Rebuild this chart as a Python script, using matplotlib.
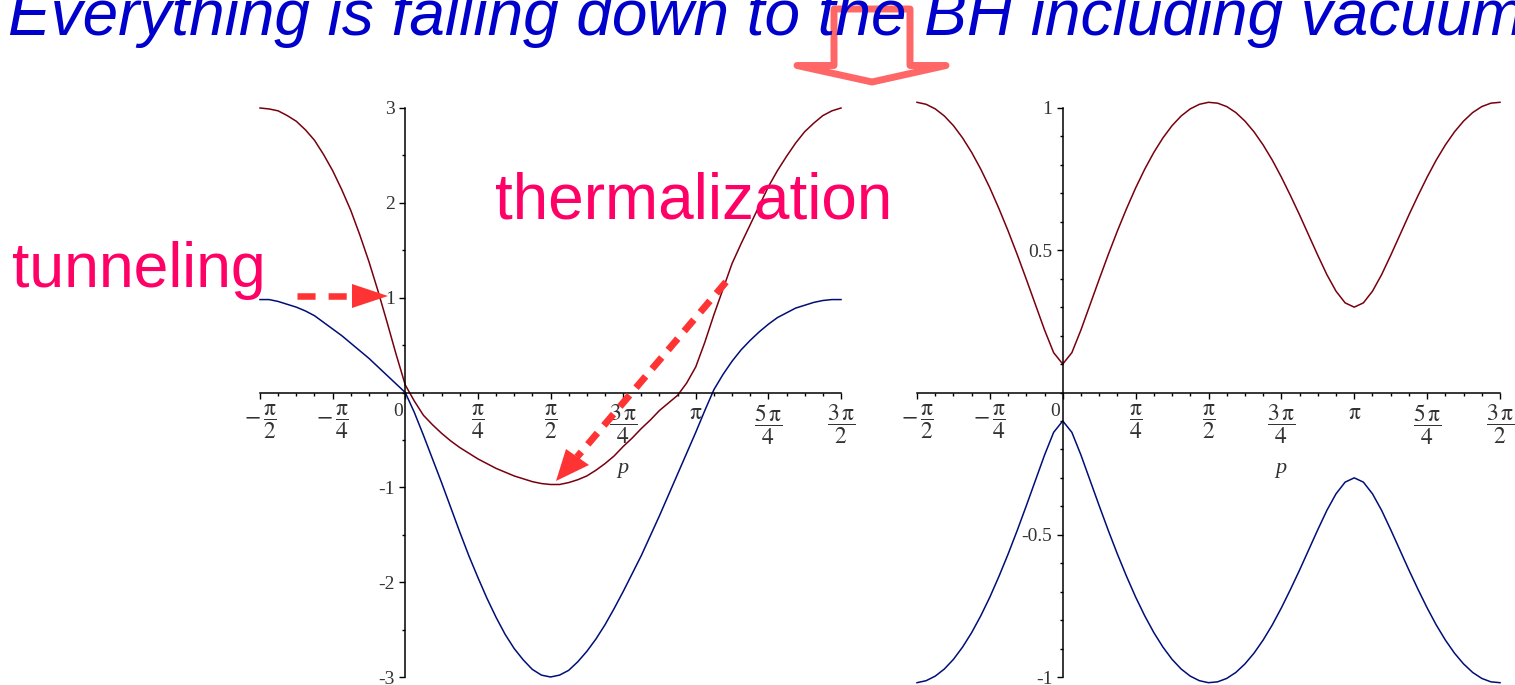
import numpy as np
import matplotlib
matplotlib.use("Agg")
import matplotlib.pyplot as plt
from matplotlib.patches import Polygon
from matplotlib.lines import Line2D
from matplotlib.ticker import MultipleLocator

plt.rcParams['font.family'] = ['Liberation Serif', 'DejaVu Serif']
plt.rcParams['mathtext.fontset'] = 'stix'

W, H = 1515, 685

# grid in p: steps of pi/32 from -pi/2 to 3pi/2
j = np.arange(-16, 49)
p = j * np.pi / 32

# left panel, the two uncoupled branches
red_left = [3.00, 2.99, 2.97, 2.92, 2.86, 2.77, 2.66, 2.51, 2.34, 2.14,
            1.92, 1.66, 1.38, 1.07, 0.74, 0.40, 0.08, -0.09, -0.24, -0.34,
            -0.43, -0.51, -0.58, -0.64, -0.70, -0.75, -0.80, -0.84, -0.88, -0.91,
            -0.94, -0.96, -0.97, -0.97, -0.95, -0.92, -0.88, -0.82, -0.75, -0.67,
            -0.57, -0.48, -0.38, -0.29, -0.19, -0.11, -0.03, 0.10, 0.27, 0.53,
            0.82, 1.09, 1.36, 1.57, 1.77, 1.97, 2.17, 2.34, 2.49, 2.63,
            2.75, 2.84, 2.92, 2.97, 3.00]
blue_left = [0.98, 0.98, 0.96, 0.93, 0.90, 0.86, 0.81, 0.74, 0.67, 0.60,
             0.52, 0.44, 0.36, 0.27, 0.18, 0.09, 0.00, -0.21, -0.45, -0.70,
             -0.95, -1.21, -1.47, -1.72, -1.95, -2.17, -2.37, -2.55, -2.70, -2.82,
             -2.92, -2.98, -3.00, -2.98, -2.93, -2.84, -2.73, -2.60, -2.45, -2.28,
             -2.10, -1.91, -1.72, -1.51, -1.30, -1.08, -0.86, -0.64, -0.42, -0.19,
             0.03, 0.19, 0.33, 0.45, 0.55, 0.64, 0.72, 0.79, 0.84, 0.89,
             0.92, 0.95, 0.97, 0.98, 0.98]

# right panel, the gapped bands
upper_band = [1.020, 1.013, 0.997, 0.972, 0.938, 0.895, 0.844, 0.785, 0.719, 0.646,
              0.568, 0.485, 0.398, 0.309, 0.220, 0.140, 0.100, 0.140, 0.220, 0.309,
              0.398, 0.485, 0.568, 0.646, 0.719, 0.785, 0.844, 0.895, 0.938, 0.972,
              0.997, 1.013, 1.020, 1.017, 1.005, 0.984, 0.954, 0.916, 0.870, 0.817,
              0.757, 0.692, 0.624, 0.553, 0.482, 0.414, 0.356, 0.315, 0.300, 0.315,
              0.356, 0.414, 0.482, 0.553, 0.624, 0.692, 0.757, 0.817, 0.870, 0.916,
              0.954, 0.984, 1.005, 1.017, 1.020]
lower_band = [-1.020, -1.013, -0.997, -0.972, -0.938, -0.895, -0.844, -0.785, -0.719, -0.646,
              -0.568, -0.485, -0.398, -0.309, -0.220, -0.140, -0.100, -0.140, -0.220, -0.309,
              -0.398, -0.485, -0.568, -0.646, -0.719, -0.785, -0.844, -0.895, -0.938, -0.972,
              -0.997, -1.013, -1.020, -1.017, -1.005, -0.984, -0.954, -0.916, -0.870, -0.817,
              -0.757, -0.692, -0.624, -0.553, -0.482, -0.414, -0.356, -0.315, -0.300, -0.315,
              -0.356, -0.414, -0.482, -0.553, -0.624, -0.692, -0.757, -0.817, -0.870, -0.916,
              -0.954, -0.984, -1.005, -1.017, -1.020]

x_ticks = np.arange(-2, 7) * np.pi / 4
x_labels = [r'$-\,\dfrac{\mathrm{\pi}}{2}$', r'$-\,\dfrac{\mathrm{\pi}}{4}$', '',
            r'$\dfrac{\mathrm{\pi}}{4}$', r'$\dfrac{\mathrm{\pi}}{2}$',
            r'$\dfrac{3\,\mathrm{\pi}}{4}$', r'$\mathrm{\pi}$',
            r'$\dfrac{5\,\mathrm{\pi}}{4}$', r'$\dfrac{3\,\mathrm{\pi}}{2}$']
left_yticks = [-3, -2, -1, 1, 2, 3]
left_ylabels = ['-3', '-2', '-1', '1', '2', '3']
right_yticks = [-1, -0.5, 0.5, 1]
right_ylabels = ['-1', '-0.5', '0.5', '1']

RED = '#78000E'
BLUE = '#000E78'
LABEL = '#333333'


def px_box(x0, x1, y0, y1):
    return [x0 / W, 1 - y1 / H, (x1 - x0) / W, (y1 - y0) / H]


def maple_axes(ax, ylim, yticks, ylabels, yminor, zero_dx):
    ax.set_xlim(-np.pi / 2, 3 * np.pi / 2)
    ax.set_ylim(*ylim)
    ax.patch.set_visible(False)
    for s in ('top', 'right'):
        ax.spines[s].set_visible(False)
    for s in ('left', 'bottom'):
        ax.spines[s].set_position(('data', 0))
        ax.spines[s].set_linewidth(1.1)
    ax.set_xticks(x_ticks)
    ax.set_xticklabels(x_labels, fontsize=17)
    ax.xaxis.set_minor_locator(MultipleLocator(np.pi / 16))
    ax.set_yticks(yticks)
    ax.set_yticklabels(ylabels, fontsize=14)
    ax.yaxis.set_minor_locator(MultipleLocator(yminor))
    ax.tick_params(which='major', direction='out', length=4.5, width=1,
                   labelcolor=LABEL)
    ax.tick_params(which='minor', direction='out', length=2.5, width=1)
    ax.tick_params(axis='x', pad=3)
    ax.tick_params(axis='y', pad=3)
    ax.annotate('0', xy=(0, 0), xytext=(zero_dx, -19), textcoords='offset pixels',
                ha='center', va='center', fontsize=14, color=LABEL)
    ax.annotate('p', xy=(3 * np.pi / 4, 0), xytext=(0, -76), textcoords='offset pixels',
                ha='center', va='center', fontsize=16, style='italic', color=LABEL)


fig = plt.figure(figsize=(W / 100, H / 100), dpi=100)

ax1 = fig.add_axes(px_box(260, 841, 108, 677))
ax1.plot(p, red_left, color=RED, lw=1.1, clip_on=False)
ax1.plot(p, blue_left, color=BLUE, lw=1.1, clip_on=False)
maple_axes(ax1, (-3, 3), left_yticks, left_ylabels, 0.5, -7)

ax2 = fig.add_axes(px_box(917, 1500, 108, 677))
ax2.plot(p, upper_band, color=RED, lw=1.1, clip_on=False)
ax2.plot(p, lower_band, color=BLUE, lw=1.1, clip_on=False)
maple_axes(ax2, (-1, 1), right_yticks, right_ylabels, 0.1, -8)

# slide overlay in pixel coordinates
ov = fig.add_axes([0, 0, 1, 1])
ov.set_xlim(0, W)
ov.set_ylim(H, 0)
ov.axis('off')
ov.set_zorder(5)

ov.text(8, 35, 'Everything is falling down to the BH including vacuum.',
        family='Liberation Sans', style='italic', fontsize=46, color='#0000CC',
        va='baseline', ha='left', clip_on=False)

# hollow down arrow
ov.add_patch(Polygon([(834, 65.5), (834, 9), (910, 9), (910, 65.5), (946, 65.5),
                      (872, 82), (797, 65.5)], closed=True, fill=False,
                     ec='#FF6666', lw=5, joinstyle='round'))

ov.text(12, 287, 'tunneling', family='Liberation Sans', fontsize=45,
        color='#FF0066', va='baseline', ha='left')
ov.text(495, 218, 'thermalization', family='Liberation Sans', fontsize=46,
        color='#FF0066', va='baseline', ha='left')

ARROW = '#FF3333'
ov.add_line(Line2D([297, 353], [296, 296], color=ARROW, lw=4.7,
                   ls=(0, (2.77, 2.0)), dash_capstyle='butt'))
ov.add_patch(Polygon([(388, 296), (352, 284), (352, 308)], closed=True,
                     fc=ARROW, ec='none'))

ov.add_line(Line2D([726, 577], [282, 457], color=ARROW, lw=5,
                   ls=(0, (2.14, 1.43)), dash_capstyle='butt'))
ov.add_patch(Polygon([(556, 481), (566, 449), (589, 465)], closed=True,
                     fc=ARROW, ec='none'))

fig.savefig('out.png', dpi=100)
